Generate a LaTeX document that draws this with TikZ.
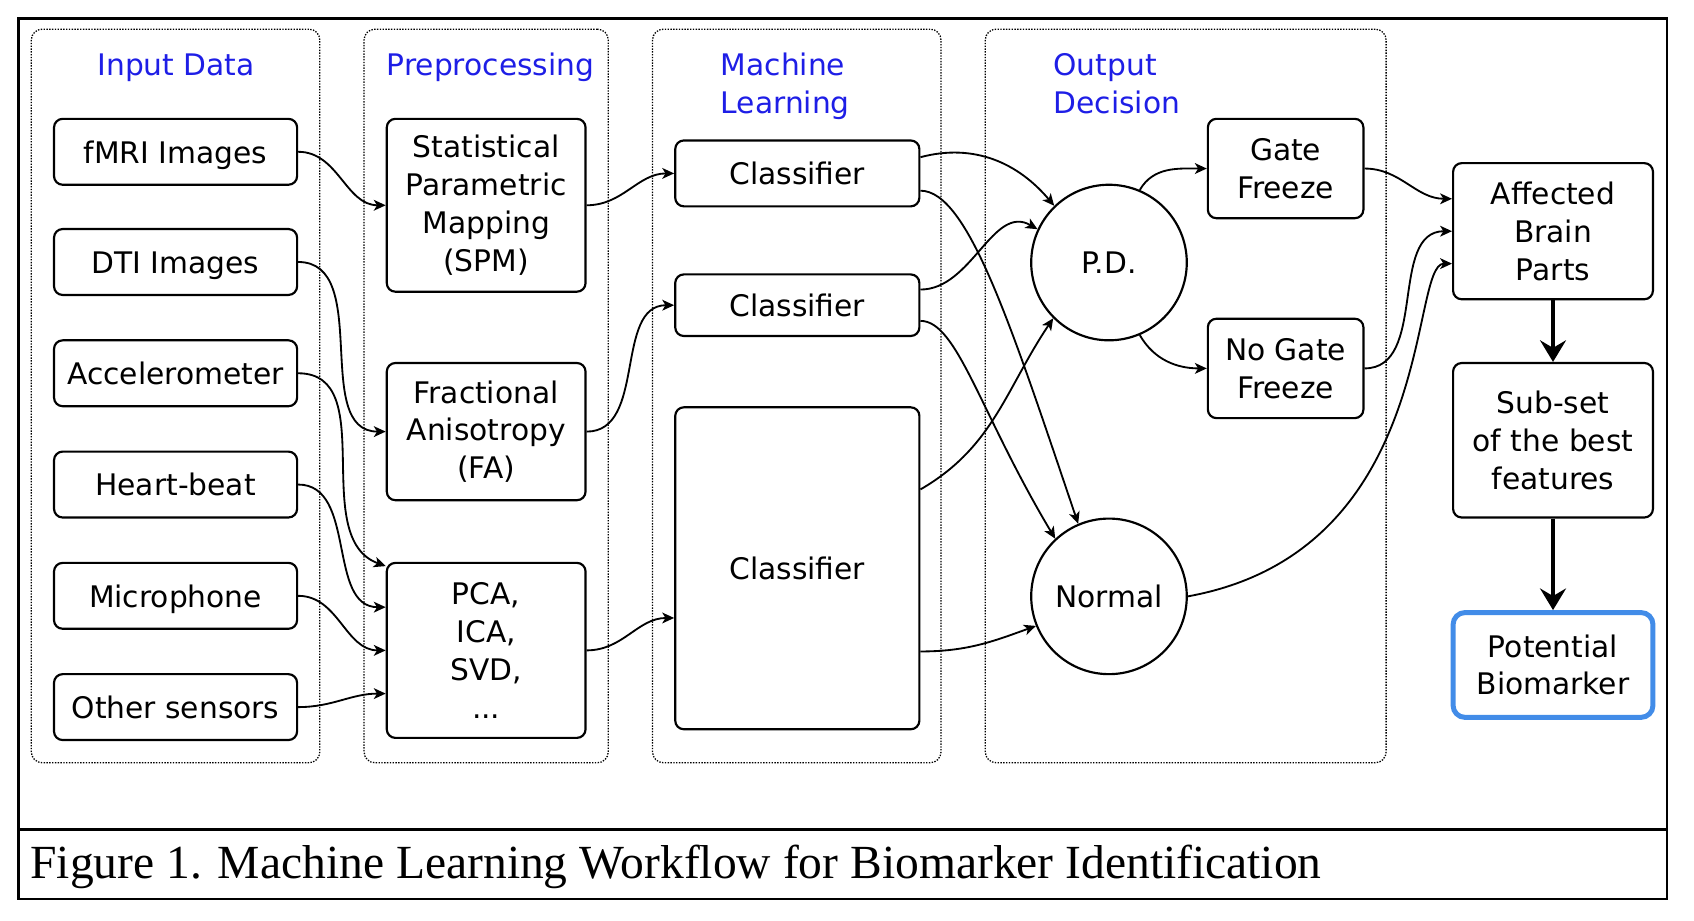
\documentclass[tikz,border=0pt]{standalone}
\usepackage{fontspec}
\setmainfont{DejaVu Sans}
\newfontfamily\capfont{Liberation Serif}
\usetikzlibrary{arrows.meta}
\definecolor{ttl}{RGB}{30,30,230}
\definecolor{bmk}{RGB}{66,140,232}
\tikzset{
  txt/.style={font=\fontsize{27.5}{35}\selectfont},
  box/.style={txt, draw, line width=2pt, rounded corners=8pt, align=center, inner sep=0pt},
  sl/.style={text height=21pt, text depth=0pt},
  grp/.style={draw, line width=1.2pt, dash pattern=on 1.3pt off 1.3pt, rounded corners=10pt, inner sep=0pt},
  ttlst/.style={txt, text=ttl, align=left, inner sep=0pt},
  circ/.style={txt, draw, circle, line width=2pt, minimum size=144pt, inner sep=0pt},
  con/.style={line width=1.7pt, -{Stealth[length=11pt,width=10pt,inset=3pt]}},
  big/.style={line width=4.5pt, -{Stealth[length=20pt,width=24pt,inset=7pt]}},
}
\begin{document}
\begin{tikzpicture}[x=1pt,y=-1pt]
\useasboundingbox (0,0) rectangle (1568,852);
% frame
\node[draw, line width=2.5pt, minimum width=1526pt, minimum height=815pt, inner sep=0pt] (frame) at (780,424.5) {};
\coordinate (dl) at (17,768);
\coordinate (dr) at (1543,768);
\draw[line width=2.5pt] (dl) -- (dr);
\node[anchor=base west, inner sep=0pt, font=\capfont\fontsize{44}{50}\selectfont] (caption) at (28,813) {Figure 1. Machine Learning Workflow for Biomarker Identification};

% groups
\node[grp, minimum width=267pt, minimum height=679pt] (g1) at (162.5,366.5) {};
\node[grp, minimum width=226pt, minimum height=679pt] (g2) at (450,366.5) {};
\node[grp, minimum width=267pt, minimum height=679pt] (g3) at (737.5,366.5) {};
\node[grp, minimum width=371pt, minimum height=679pt] (g4) at (1097.5,366.5) {};

% titles
\node[ttlst, anchor=base] (t1) at (163,70) {Input Data};
\node[ttlst, anchor=base] (t2) at (454,70) {Preprocessing};
\node[ttlst, anchor=north west] (t3) at (667,49) {Machine\\Learning};
\node[ttlst, anchor=north west] (t4) at (975,49) {Output\\Decision};

% input boxes
\node[box, sl, minimum width=225pt, minimum height=61pt] (fmri) at (162.5,140.5) {fMRI Images};
\node[box, sl, minimum width=225pt, minimum height=61pt] (dti) at (162.5,242.5) {DTI Images};
\node[box, sl, minimum width=225pt, minimum height=61pt] (acc) at (162.5,345.5) {Accelerometer};
\node[box, sl, minimum width=225pt, minimum height=61pt] (hb) at (162.5,448.5) {Heart-beat};
\node[box, sl, minimum width=225pt, minimum height=61pt] (mic) at (162.5,551.5) {Microphone};
\node[box, sl, minimum width=225pt, minimum height=61pt] (oth) at (162.5,654.5) {Other sensors};

% preprocessing
\node[box, minimum width=184pt, minimum height=160pt] (spm) at (450,190) {Statistical\\Parametric\\Mapping\\(SPM)};
\node[box, minimum width=184pt, minimum height=127pt] (fa) at (450,399.5) {Fractional\\Anisotropy\\(FA)};
\node[box, minimum width=184pt, minimum height=162pt] (pca) at (450,602) {PCA,\\ICA,\\SVD,\\...};

% machine learning
\node[box, sl, minimum width=226pt, minimum height=61pt] (c1) at (738,160.5) {Classifier};
\node[box, sl, minimum width=226pt, minimum height=57pt] (c2) at (738,282.5) {Classifier};
\node[box, sl, minimum width=226pt, minimum height=298pt] (c3) at (738,526) {Classifier};

% output decision
\node[circ] (pd) at (1026.5,243) {P.D.};
\node[circ] (nor) at (1026.5,552) {Normal};
\node[box, minimum width=144pt, minimum height=92pt] (gf) at (1190,156) {Gate\\Freeze};
\node[box, minimum width=144pt, minimum height=92pt] (ngf) at (1190,341) {No Gate\\Freeze};

% right column
\node[box, minimum width=185pt, minimum height=126pt] (aff) at (1437.5,214) {Affected\\Brain\\Parts};
\node[box, minimum width=185pt, minimum height=143pt] (sub) at (1437.5,407.5) {Sub-set\\of the best\\features};
\node[box, draw=bmk, line width=4.6pt, rounded corners=11pt, minimum width=185pt, minimum height=97pt] (pot) at (1437.5,615.5) {Potential\\Biomarker};

% connectors: input -> preprocessing
\draw[con] (fmri.east) to[out=0,in=180] (spm.west);
\draw[con] (dti.east) to[out=0,in=180] (fa.west);
\draw[con] (acc.east) to[out=0,in=160] ([yshift=-4pt]pca.north west);
\draw[con] (hb.east) to[out=0,in=180] ([yshift=40pt]pca.west);
\draw[con] (mic.east) to[out=0,in=180] (pca.west);
\draw[con] (oth.east) to[out=0,in=180] ([yshift=-40pt]pca.west);

% preprocessing -> ML
\draw[con] (spm.east) to[out=0,in=180] (c1.west);
\draw[con] (fa.east) to[out=0,in=180] (c2.west);
\draw[con] (pca.east) to[out=0,in=180] ([yshift=-46pt]c3.west);

% ML -> output
\draw[con] ([yshift=15pt]c1.east) to[out=15,in=130] (pd.134);
\draw[con] ([yshift=-16pt]c1.east) .. controls +(44,0) and +(-62,-183) .. (nor.113);
\draw[con] ([yshift=14.5pt]c2.east) to[out=0,in=150] (pd.155);
\draw[con] ([yshift=-14.5pt]c2.east) .. controls +(34,0) and +(-70,-117) .. (nor.133);
\draw[con] ([yshift=73pt]c3.east) to[out=30,in=236] (pd.225);
\draw[con] ([yshift=-77pt]c3.east) to[out=0,in=200] (nor.202);

% output -> gate
\draw[con] (pd.67) to[out=60,in=180] (gf.west);
\draw[con] (pd.293) to[out=-60,in=180] (ngf.west);

% -> affected
\draw[con] (gf.east) to[out=0,in=180] ([yshift=30pt]aff.west);
\draw[con] (ngf.east) to[out=0,in=180] (aff.west);
\draw[con] (nor.east) .. controls +(232,-42) and +(-40,0) .. ([yshift=-30pt]aff.west);

% thick arrows
\draw[big] (aff.south) -- (sub.north);
\draw[big] (sub.south) -- (pot.north);
\end{tikzpicture}
\end{document}
